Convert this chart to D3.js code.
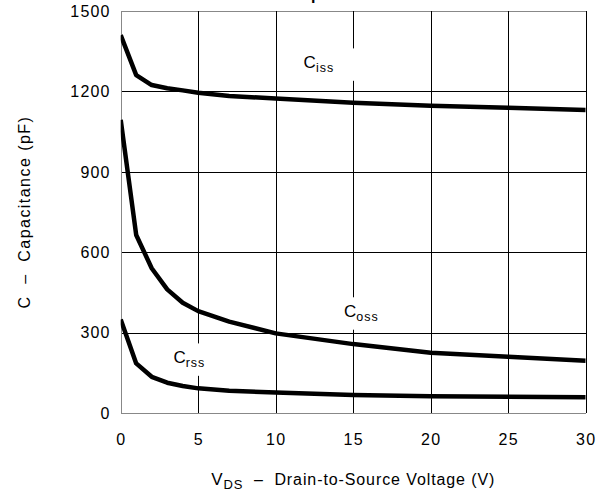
<!DOCTYPE html>
<html>
<head>
<meta charset="utf-8">
<script src="https://cdn.jsdelivr.net/npm/d3@7"></script>
<style>
  html, body { margin: 0; padding: 0; background: #fff; }
  svg { display: block; font-family: "Liberation Sans", Arial, Helvetica, sans-serif; }
</style>
</head>
<body>
<svg id="chart" width="597" height="495"></svg>
<script>
// drain-to-source voltage (V)
const vds = [0, 1, 2, 3, 4, 5, 7, 10, 15, 20, 25, 30];
// capacitances (pF)
const ciss = [1410, 1261, 1224, 1212, 1204, 1195, 1183, 1174, 1158, 1147, 1139, 1131];
const coss = [1094, 665, 541, 462, 412, 381, 342, 298, 258, 226, 211, 196];
const crss = [350, 186, 136, 114, 102, 93, 84, 78, 68, 64, 62, 60];

const xTicks = [0, 5, 10, 15, 20, 25, 30];
const yTicks = [0, 300, 600, 900, 1200, 1500];

// curve names and where they sit (V, pF)
const curveLabels = [
  { main: "C", sub: "iss", v: 11.8, c: 1286 },
  { main: "C", sub: "oss", v: 14.4, c: 358 },
  { main: "C", sub: "rss", v: 3.4, c: 186 }
];

const svg = d3.select("#chart");
const margin = { left: 120.7, top: 11 };
const width = 465, height = 402.3;

const x = d3.scaleLinear().domain([0, 30]).range([0, width]);
const y = d3.scaleLinear().domain([0, 1500]).range([height, 0]);

// title, mostly cut off above the page (as in the source figure)
svg.append("text")
  .attr("x", 290.5).attr("y", 0)
  .attr("font-size", 16).attr("font-weight", "bold")
  .text("Capacitance");

const g = svg.append("g").attr("transform", `translate(${margin.left},${margin.top})`);

// grid + tick labels
const yAxis = g.append("g")
  .call(d3.axisLeft(y).tickValues(yTicks).tickFormat(d3.format("d")).tickSize(-width).tickPadding(10));
const xAxis = g.append("g")
  .attr("transform", `translate(0,${height})`)
  .call(d3.axisBottom(x).tickValues(xTicks).tickFormat(d3.format("d")).tickSize(-height).tickPadding(20));

[yAxis, xAxis].forEach(a => {
  a.attr("font-family", null).attr("font-size", null);
  a.select(".domain").remove();
  a.selectAll("line").attr("stroke", "#000").attr("stroke-width", 1).attr("shape-rendering", "crispEdges");
  a.selectAll("text").attr("font-size", 16).attr("fill", "#000").style("letter-spacing", "1.2px");
});
yAxis.selectAll(".tick").filter(d => d === 0 || d === 1500).select("line").attr("stroke", "#888");
xAxis.selectAll(".tick").filter(d => d === 0).select("line").attr("stroke", "#888");

// curves
g.append("clipPath").attr("id", "plot")
  .append("rect").attr("width", width).attr("height", height);

const line = d3.line().x(d => x(d[0])).y(d => y(d[1]));
[ciss, coss, crss].forEach(s => {
  g.append("path")
    .datum(vds.map((v, i) => [v, s[i]]))
    .attr("clip-path", "url(#plot)")
    .attr("d", line)
    .attr("fill", "none")
    .attr("stroke", "#000")
    .attr("stroke-width", 4.5)
    .attr("stroke-linejoin", "round");
});

// curve labels on white patches (they break the grid lines)
curveLabels.forEach(l => {
  const lg = g.append("g").attr("transform", `translate(${x(l.v)},${y(l.c)})`);
  const bg = lg.append("rect").attr("fill", "#fff");
  const t = lg.append("text").attr("fill", "#000");
  t.append("tspan").attr("font-size", 17).text(l.main);
  t.append("tspan").attr("font-size", 12.5).attr("dy", 3.4).style("letter-spacing", "1px").text(l.sub);
  const b = t.node().getBBox();
  bg.attr("x", b.x - 4).attr("y", b.y - 5)
    .attr("width", b.width + 30).attr("height", b.height + 11);
});

// axis titles
const xt = svg.append("text")
  .attr("x", margin.left + width / 2).attr("y", 484.5)
  .attr("text-anchor", "middle")
  .attr("fill", "#000")
  .style("white-space", "pre")
  .style("letter-spacing", "0.9px");
xt.append("tspan").attr("font-size", 17).text("V");
xt.append("tspan").attr("font-size", 13).attr("dy", 4).text("DS");
xt.append("tspan").attr("font-size", 16).attr("dy", -4).text("  \u2013  Drain-to-Source Voltage (V)");

svg.append("text")
  .attr("transform", `translate(30,${margin.top + height / 2}) rotate(-90)`)
  .attr("text-anchor", "middle")
  .attr("font-size", 16)
  .attr("fill", "#000")
  .style("white-space", "pre")
  .style("letter-spacing", "1.45px")
  .text("C  \u2013  Capacitance (pF)");
</script>
</body>
</html>
